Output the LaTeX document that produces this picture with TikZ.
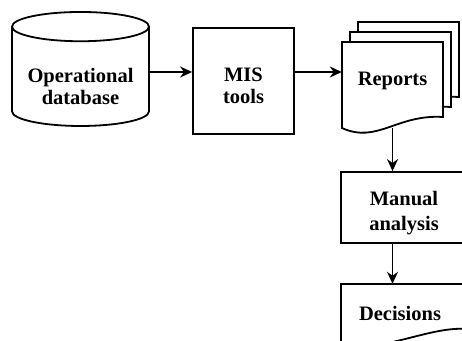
\documentclass[tikz,border=0pt]{standalone}
\usepackage{fontspec}
\setmainfont{Liberation Serif}
\usepackage{tikz}
\usetikzlibrary{shapes.geometric, arrows.meta}
\tikzstyle{database} = [cylinder, shape border rotate=90, aspect=0.26, minimum width=137pt, minimum height=114pt, align=center, draw=black, fill=white, line width=1.8pt]
\tikzstyle{process} = [rectangle, minimum width=101pt, minimum height=106pt, align=center, draw=black, fill=white, line width=1.8pt]
\tikzstyle{report} = [rectangle, minimum width=101pt, minimum height=94pt, align=center]
\tikzstyle{arrow} = [line width=1.8pt, -{Stealth[length=12pt,width=11pt]}]
\tikzstyle{sheet} = [draw=black, fill=white, line width=1.8pt]
% one page of a document, top left corner given
\newcommand{\docsheet}[1]{%
  \draw[sheet, shift={(#1)}] (0,0) -- (101,0) -- (101,75)
    .. controls (55,72) and (35,102) .. (0,86) -- cycle;}

\begin{document}
\begin{tikzpicture}[
  x=1pt, y=-1pt,
  node distance=163pt,
  every node/.style={font=\fontsize{20.5}{22}\selectfont\bfseries}
  ]
\useasboundingbox (0,0) rectangle (462,340);
\clip (0,0) rectangle (462,340);

% report pages, back to front
\docsheet{358,22}
\docsheet{350,32}
\docsheet{342,42}
% decision page
\draw[sheet] (341,284) -- (467,284) -- (467,329)
  .. controls (430,326) and (385,352) .. (341,346) -- cycle;

\node (opdb) [database] at (80.5,79) {\rule{0pt}{30pt}Operational\\database};
\node (mis) [process, right of=opdb, yshift=-2pt] {\rule{0pt}{24pt}MIS\\tools};
\node (reports) [report, right of=mis, xshift=-14pt] {Reports};
\node (manual) [process, below of=reports, xshift=11.5pt, yshift=36.5pt, minimum width=126pt, minimum height=71pt,
  font=\fontsize{20.5}{25}\selectfont\bfseries] {\rule{0pt}{25pt}Manual\\analysis};
\node (decide) [below of=manual, xshift=-4pt, yshift=57.5pt, minimum height=58pt] {Decisions};

\draw [arrow] ([yshift=7pt]opdb.east) -- ([yshift=7pt]opdb.east -| mis.west);
\draw [arrow] ([yshift=7pt]opdb.east -| mis.east) -- ([yshift=7pt]opdb.east -| reports.west);
\draw [arrow] (reports.south) -- (reports.south |- manual.north);
\draw [arrow] (reports.south |- manual.south) -- (reports.south |- decide.north);

\end{tikzpicture}
\end{document}
